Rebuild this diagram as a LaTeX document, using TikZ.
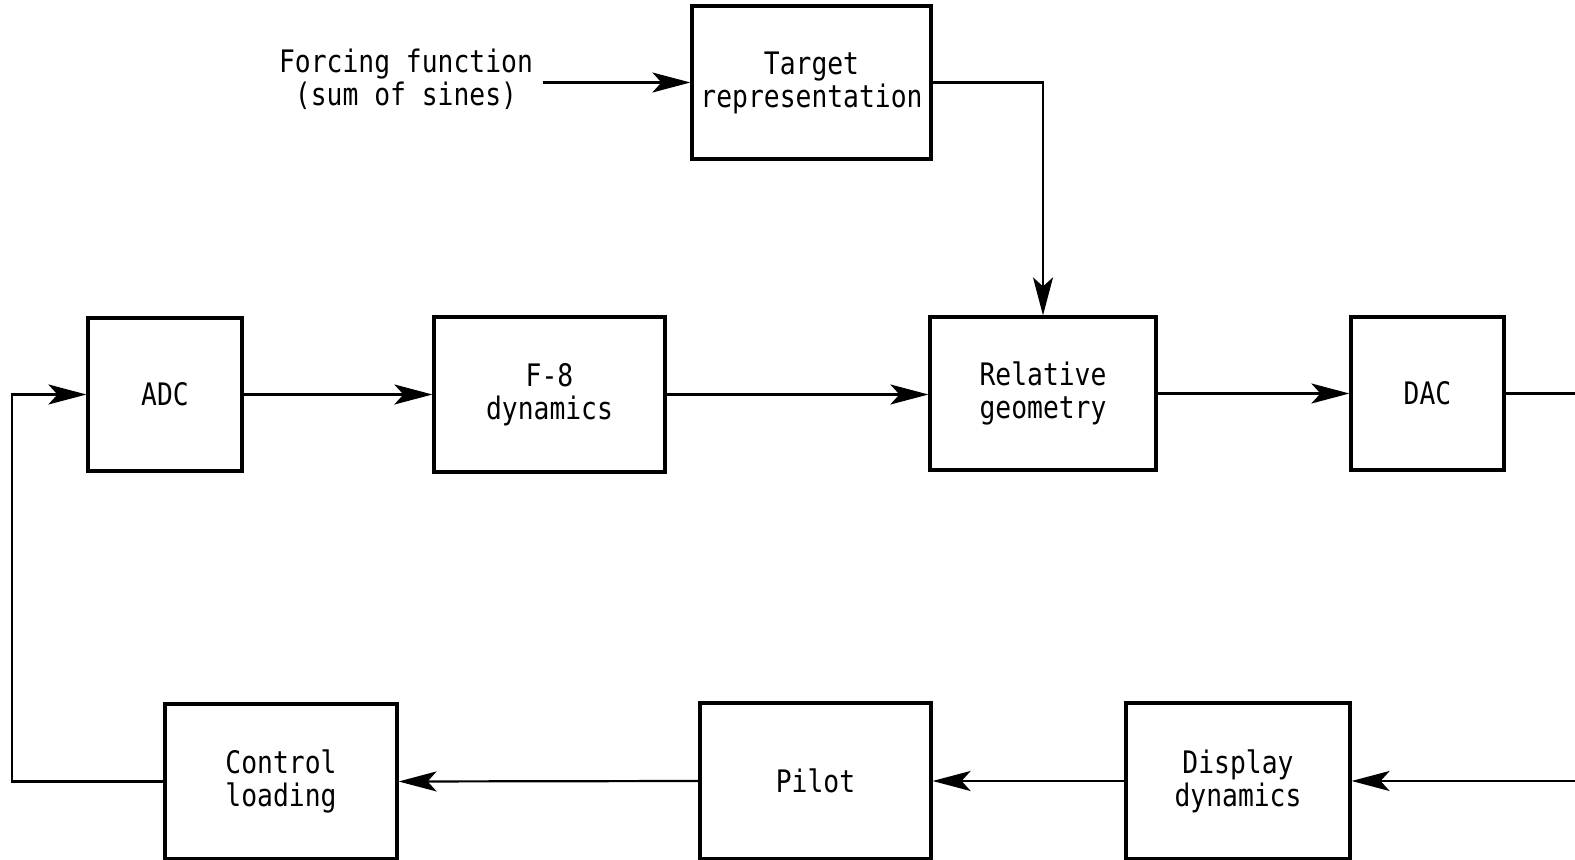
\documentclass[tikz,border=0pt]{standalone}
\usepackage{fontspec}
\setmainfont{DejaVu Sans Mono}[FakeStretch=0.85]
\usetikzlibrary{arrows.meta}
\begin{document}
\begin{tikzpicture}[x=0.5pt,y=-0.5pt,
  txt/.style={align=center,inner sep=0pt,font=\fontsize{15.5}{16.5}\selectfont},
  blk/.style={txt,draw,line width=1.6pt},
  conn/.style={line width=1.1pt},
  arr/.style={conn,-{Stealth[length=19pt,width=10pt,inset=4.5pt]}}]
\useasboundingbox (0,0) rectangle (1575,860);
\node[blk,minimum width=119.5pt,minimum height=76.5pt] (tgt) at (811.5,82.5) {Target\\representation};
\node[blk,minimum width=77pt,minimum height=76.5pt] (adc) at (165,394.5) {ADC};
\node[blk,minimum width=115.5pt,minimum height=77.5pt] (f8) at (549.5,394.5) {F-8\\dynamics};
\node[blk,minimum width=113pt,minimum height=76.5pt] (rel) at (1043,393.5) {Relative\\geometry};
\node[blk,minimum width=76.5pt,minimum height=76.5pt] (dac) at (1427.5,393.5) {DAC};
\node[blk,minimum width=116pt,minimum height=77.5pt] (cl) at (281,781.5) {Control\\loading};
\node[blk,minimum width=115.5pt,minimum height=78pt] (pil) at (815.5,781) {Pilot};
\node[blk,minimum width=112pt,minimum height=78pt] (dd) at (1238,781) {Display\\dynamics};
\node[txt] (ff) at (406,79) {Forcing function\\(sum of sines)};
\coordinate (fs) at (543,82.5);
\coordinate (lp) at (12,0);
\coordinate (re) at (1575,0);
\draw[arr] (fs) -- (tgt.west);
\draw[arr] (tgt.east) -| (rel.north);
\draw[arr] (adc.east) -- (f8.west);
\draw[arr] (f8.east) -- (f8.east -| rel.west);
\draw[arr] (rel.east) -- (rel.east -| dac.west);
\draw[conn] (dac.east) -- (dac.east -| re);
\draw[arr] (dd.east -| re) -- (dd.east);
\draw[arr] (dd.west) -- (pil.east);
\draw[arr] (pil.west) -- (cl.east);
\draw[arr] (cl.west) -- (cl.west -| lp) |- (adc.west);
\end{tikzpicture}
\end{document}
